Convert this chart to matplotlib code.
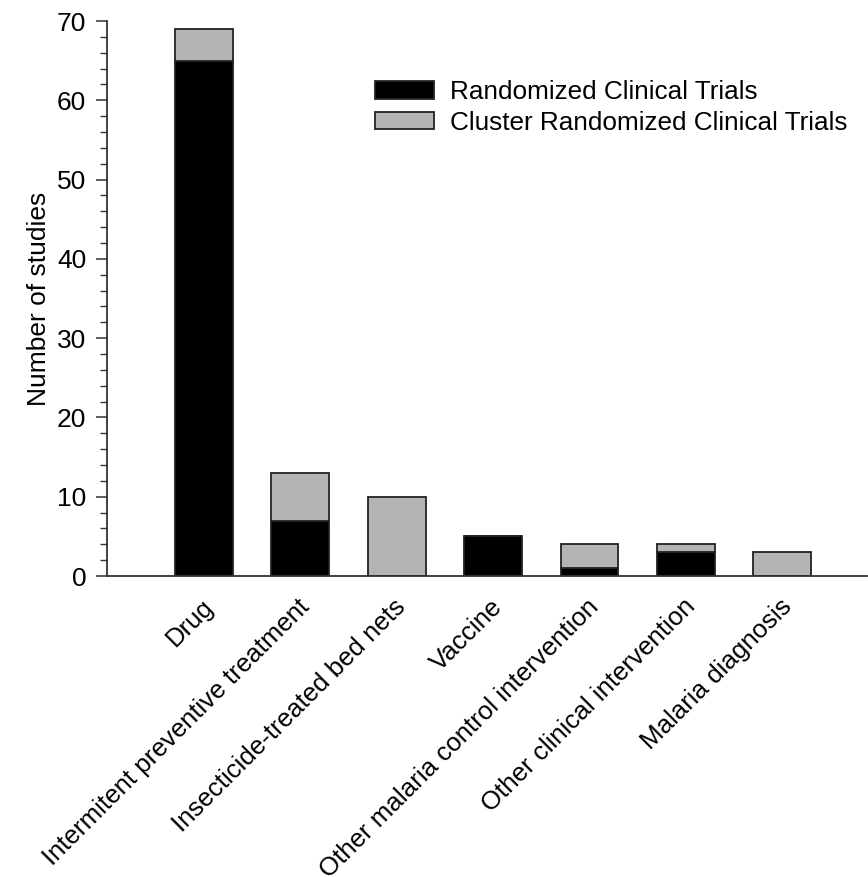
import matplotlib
matplotlib.use("Agg")
import matplotlib.pyplot as plt
from matplotlib.ticker import MultipleLocator
import matplotlib.transforms as mtransforms
import numpy as np

categories = ["Drug", "Intermitent preventive treatment", "Insecticide-treated bed nets",
              "Vaccine", "Other malaria control intervention", "Other clinical intervention",
              "Malaria diagnosis"]
rct = [65, 7, 0, 5, 1, 3, 0]
crct = [4, 6, 10, 0, 3, 1, 3]
series_names = ["Randomized Clinical Trials", "Cluster Randomized Clinical Trials"]

plt.rcParams['font.family'] = ['Liberation Sans', 'DejaVu Sans']
fs = 19

fig = plt.figure(figsize=(8.68, 8.77), dpi=100)
ax = fig.add_axes([0.1233, 0.3432, 0.8755, 0.6328])

x = np.arange(len(categories))
edge = "#222222"
b1 = ax.bar(x, rct, width=0.6, color="black", edgecolor=edge, linewidth=1.3, label=series_names[0])
b2 = ax.bar(x, crct, width=0.6, bottom=rct, color="#b4b4b4", edgecolor=edge, linewidth=1.3, label=series_names[1])

ax.set_xlim(-1.006, 6.88)
ax.set_ylim(0, 70)
ax.yaxis.set_major_locator(MultipleLocator(10))
ax.yaxis.set_minor_locator(MultipleLocator(2))
for s in ["top", "right"]:
    ax.spines[s].set_visible(False)
for s in ["left", "bottom"]:
    ax.spines[s].set_color("#333333")
    ax.spines[s].set_linewidth(1.3)
ax.tick_params(axis="y", which="major", length=8, width=1.1, color="#333333", labelsize=fs, pad=7)
ax.tick_params(axis="y", which="minor", length=5, width=1.0, color="#333333")
ax.tick_params(axis="x", length=0, labelsize=fs * 0.98, pad=6)

ax.set_xticks(x)
ax.set_xticklabels(categories, rotation=45, ha="right", va="top", rotation_mode="anchor")
offset = mtransforms.ScaledTranslation(-3/100, -10/100, fig.dpi_scale_trans)
for lbl in ax.get_xticklabels():
    lbl.set_transform(lbl.get_transform() + offset)

ax.set_ylabel("Number of studies", fontsize=fs, labelpad=4)

leg = ax.legend(loc="upper left", bbox_to_anchor=(375/868, 1 - 80/877), bbox_transform=fig.transFigure,
                frameon=False, fontsize=fs * 0.99, handlelength=2.27, handleheight=0.65,
                handletextpad=0.6, labelspacing=0.25, borderpad=0, borderaxespad=0)

fig.savefig("out.png", dpi=100)
